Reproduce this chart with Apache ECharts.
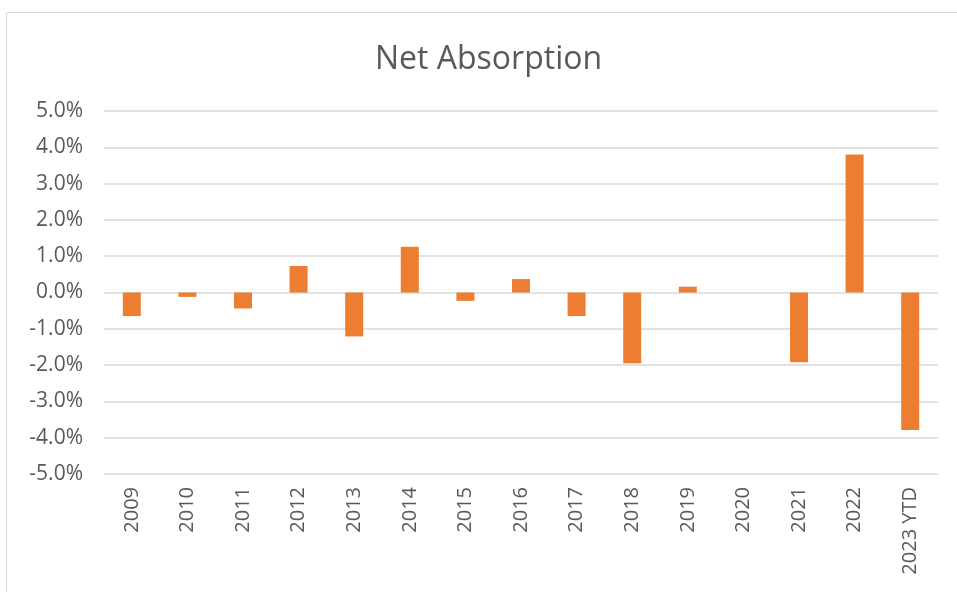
<!DOCTYPE html>
<html>
<head>
<meta charset="utf-8">
<script src="https://cdn.jsdelivr.net/npm/echarts@6/dist/echarts.min.js"></script>
<style>
  html, body { margin: 0; padding: 0; background: #fff; }
  #chart { width: 957px; height: 592px; }
</style>
</head>
<body>
<div id="chart"></div>
<script>
// categories and values (percent)
var years = ['2009', '2010', '2011', '2012', '2013', '2014', '2015', '2016',
  '2017', '2018', '2019', '2020', '2021', '2022', '2023 YTD'];
var netAbsorption = [-0.65, -0.12, -0.44, 0.73, -1.21, 1.26, -0.23, 0.37,
  -0.65, -1.95, 0.16, 0, -1.92, 3.80, -3.79];

var chart = echarts.init(document.getElementById('chart'));
var txt = '#595959';

var option = {
  animation: false,
  backgroundColor: '#fff',
  title: {
    text: 'Net Absorption',
    left: 370,
    top: 39,
    textStyle: { fontFamily: 'Open Sans', fontWeight: 'normal', fontSize: 32, color: txt }
  },
  graphic: [{
    type: 'rect',
    shape: { x: 6.5, y: 12.5, width: 1000, height: 700 },
    style: { fill: 'none', stroke: '#d9d9d9', lineWidth: 1 },
    silent: true
  }],
  grid: { left: 104, right: 19, top: 111, bottom: 118 },
  xAxis: {
    type: 'category',
    data: years,
    axisLine: { show: false, onZero: false },
    axisTick: { show: false },
    axisLabel: {
      rotate: 90,
      interval: 0,
      margin: 13,
      fontFamily: 'Open Sans',
      fontSize: 20,
      color: txt
    }
  },
  yAxis: {
    type: 'value',
    min: -5,
    max: 5,
    interval: 1,
    axisLine: { show: false },
    axisTick: { show: false },
    axisLabel: {
      margin: 21,
      fontFamily: 'Open Sans',
      fontSize: 21,
      color: txt,
      formatter: function (v) { return v.toFixed(1) + '%'; }
    },
    splitLine: { lineStyle: { color: '#d9d9d9', width: 1.5 } }
  },
  series: [{
    type: 'bar',
    data: netAbsorption,
    barWidth: 18,
    itemStyle: { color: '#ED7D31' }
  }]
};

chart.setOption(option);
</script>
</body>
</html>
